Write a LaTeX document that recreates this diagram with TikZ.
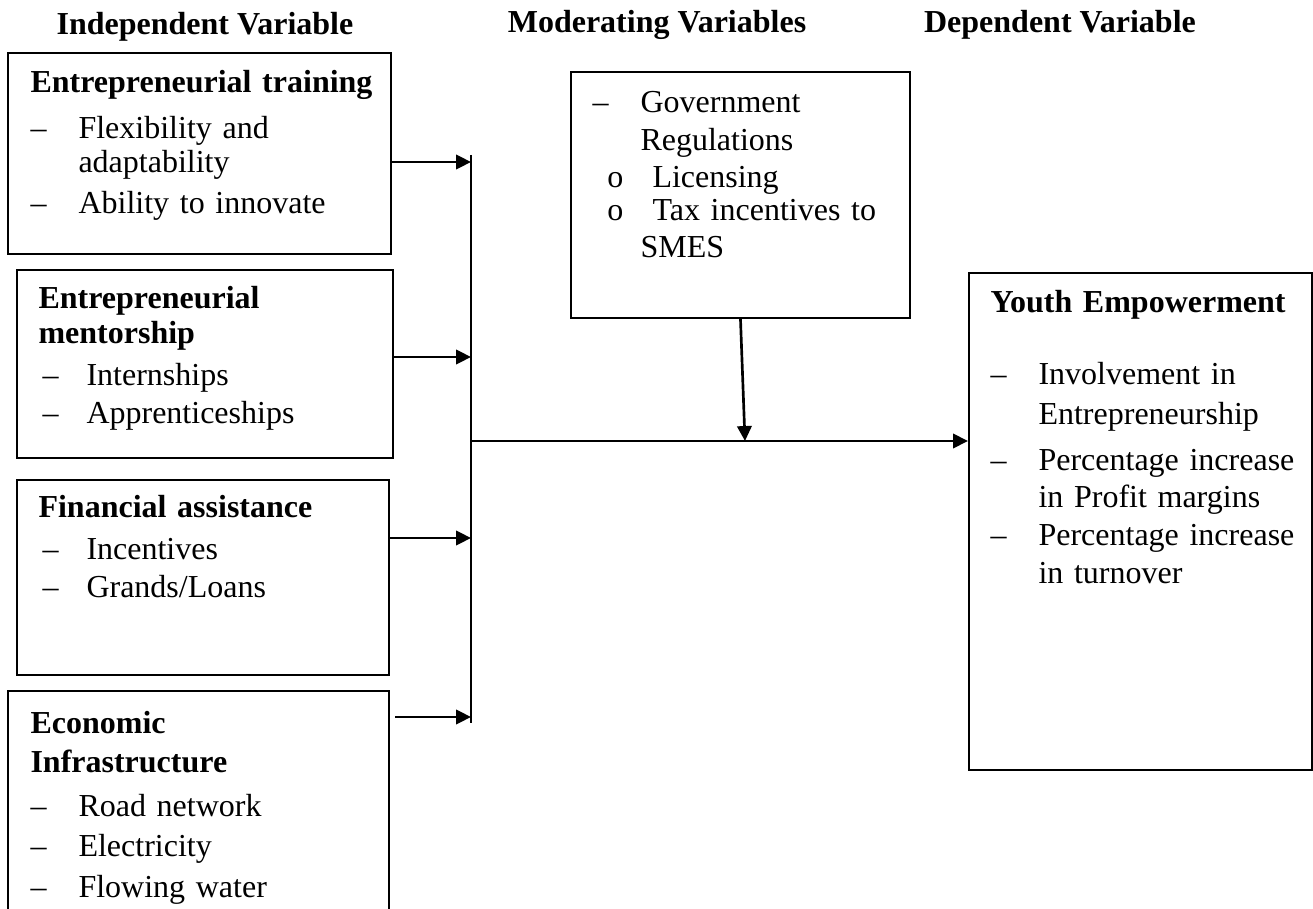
\documentclass[tikz,border=0pt]{standalone}
\usepackage{fontspec}
\setmainfont{Liberation Serif}
\usetikzlibrary{arrows.meta,fit}
\tikzset{
  box/.style={draw, line width=0.8pt, inner sep=0pt},
  txt/.style={anchor=base west, align=left, inner sep=0pt, text width=#1,
    font=\fontsize{12pt}{15pt}\selectfont},
  head/.style={anchor=base, inner sep=0pt, font=\fontsize{12pt}{15pt}\selectfont\bfseries},
  link/.style={line width=1pt, -{Triangle[length=5.6pt,width=5.4pt]}},
  bus/.style={line width=0.9pt}
}
\newcommand{\dsh}{\makebox[18pt][l]{--}}
\newcommand{\ind}{\hspace*{18pt}}
\begin{document}
\begin{tikzpicture}[x=0.375pt,y=-0.375pt]
  \useasboundingbox (0,0) rectangle (1313,909);
  \clip (0,0) rectangle (1313,909);
  % headings
  \node[head] (hind) at (205,35) {Independent Variable};
  \node[head] (hmod) at (657,33) {Moderating Variables};
  \node[head] (hdep) at (1060,33) {Dependent Variable};
  % independent variables
  \node[box, fit={(8,53) (391,254)}] (train) {};
  \node[txt=140pt] (ttrain) at (30,93) {\textbf{Entrepreneurial training}\\[1.9pt]
    \dsh Flexibility and\\[-2.25pt]
    \ind adaptability\\[0.4pt]
    \dsh Ability to innovate};
  \node[box, fit={(17,270) (393,458)}] (mentor) {};
  \node[txt=130pt] (tmentor) at (38,309) {\textbf{Entrepreneurial}\\[-1.9pt]
    \textbf{mentorship}\\[0.75pt]
    \hspace*{1.5pt}\makebox[16.5pt][l]{--}Internships\\[-0.75pt]
    \hspace*{1.5pt}\makebox[16.5pt][l]{--}Apprenticeships};
  \node[box, fit={(17,480) (389,675)}] (finance) {};
  \node[txt=130pt] (tfinance) at (38,518) {\textbf{Financial assistance}\\[0.75pt]
    \hspace*{1.5pt}\makebox[16.5pt][l]{--}Incentives\\[-0.75pt]
    \hspace*{1.5pt}\makebox[16.5pt][l]{--}Grands/Loans};
  \node[box, fit={(8,691) (389,930)}] (infra) {};
  \node[txt=130pt] (tinfra) at (30,734) {\textbf{Economic}\\[-0.4pt]
    \textbf{Infrastructure}\\[1.5pt]
    \dsh Road network\\
    \dsh Electricity\\[0.4pt]
    \dsh Flowing water};
  % moderating variable
  \node[box, fit={(571,72) (910,318)}] (mod) {};
  \node[txt=120pt] (tmod) at (592,113) {\dsh Government\\[-1.1pt]
    \ind Regulations\\[-1.1pt]
    \hspace*{5.6pt}\makebox[16.9pt][l]{o}Licensing\\[-2.6pt]
    \hspace*{5.6pt}\makebox[16.9pt][l]{o}Tax incentives to\\[-1.1pt]
    \ind SMES};
  % dependent variable
  \node[box, fit={(969,273) (1312,770)}] (youth) {};
  \node[txt=122pt] (tyouth) at (990,313) {\textbf{Youth Empowerment}\\[12pt]
    \dsh Involvement in\\
    \ind Entrepreneurship\\[1.9pt]
    \dsh Percentage increase\\[-1.1pt]
    \ind in Profit margins\\[-0.75pt]
    \dsh Percentage increase\\[-0.75pt]
    \ind in turnover};
  % connectors
  \coordinate (bt) at (471,155);
  \coordinate (bb) at (471,723);
  \coordinate (i1) at (471,162);
  \coordinate (i2) at (471,357);
  \coordinate (i3) at (471,538);
  \coordinate (i4) at (471,717);
  \coordinate (j) at (471,441);
  \coordinate (m) at (745,441);
  \draw[bus] (bt) -- (bb);
  \draw[link] (train.east |- i1) -- (i1);
  \draw[link] (mentor.east |- i2) -- (i2);
  \draw[link] (finance.east |- i3) -- (i3);
  \draw[link] ([xshift=2pt]infra.east |- i4) -- (i4);
  \draw[link] (j) -- (youth.west |- j);
  \draw[link] (mod.south) -- (m);
\end{tikzpicture}
\end{document}
